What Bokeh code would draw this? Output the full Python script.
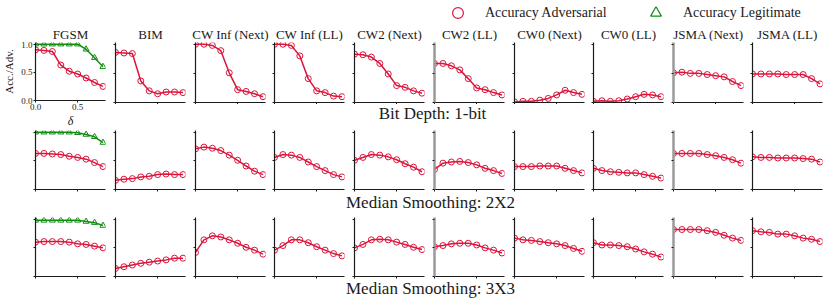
from bokeh.plotting import figure
from bokeh.layouts import row, column
from bokeh.models import (Range1d, FixedTicker, Label, Legend, LegendItem,
                          ColumnDataSource, PrintfTickFormatter, CustomJSTickFormatter)
from bokeh.embed import file_html
from bokeh.resources import INLINE

# ---------------- data ----------------
delta = [0.0, 0.1, 0.2, 0.3, 0.4, 0.5, 0.6, 0.7, 0.8]

attacks = ["FGSM", "BIM", "CW Inf (Next)", "CW Inf (LL)", "CW2 (Next)",
           "CW2 (LL)", "CW0 (Next)", "CW0 (LL)", "JSMA (Next)", "JSMA (LL)"]

defenses = ["Bit Depth: 1-bit", "Median Smoothing: 2X2", "Median Smoothing: 3X3"]

series_labels = ["Accuracy Adversarial", "Accuracy Legitimate"]

adv_bit_depth = [
    [0.90, 0.89, 0.87, 0.63, 0.52, 0.47, 0.40, 0.32, 0.25],
    [0.86, 0.85, 0.84, 0.37, 0.20, 0.15, 0.18, 0.18, 0.17],
    [1.00, 1.00, 0.98, 0.89, 0.51, 0.22, 0.19, 0.15, 0.10],
    [1.00, 1.00, 0.98, 0.80, 0.41, 0.20, 0.17, 0.11, 0.10],
    [0.83, 0.82, 0.78, 0.67, 0.49, 0.29, 0.26, 0.20, 0.16],
    [0.67, 0.67, 0.63, 0.56, 0.41, 0.25, 0.22, 0.17, 0.13],
    [0.01, 0.02, 0.02, 0.04, 0.07, 0.13, 0.21, 0.17, 0.14],
    [0.02, 0.03, 0.02, 0.03, 0.06, 0.10, 0.14, 0.13, 0.10],
    [0.51, 0.52, 0.50, 0.50, 0.48, 0.46, 0.44, 0.36, 0.29],
    [0.49, 0.49, 0.49, 0.49, 0.48, 0.48, 0.48, 0.41, 0.32],
]
adv_median_2x2 = [
    [0.63, 0.63, 0.62, 0.61, 0.58, 0.56, 0.53, 0.47, 0.40],
    [0.16, 0.18, 0.19, 0.22, 0.23, 0.26, 0.27, 0.26, 0.26],
    [0.71, 0.74, 0.72, 0.68, 0.60, 0.51, 0.41, 0.32, 0.26],
    [0.56, 0.61, 0.60, 0.56, 0.48, 0.40, 0.33, 0.26, 0.22],
    [0.51, 0.56, 0.61, 0.60, 0.57, 0.52, 0.45, 0.39, 0.31],
    [0.35, 0.46, 0.48, 0.49, 0.47, 0.43, 0.37, 0.33, 0.28],
    [0.40, 0.40, 0.40, 0.41, 0.41, 0.41, 0.37, 0.33, 0.29],
    [0.37, 0.33, 0.31, 0.30, 0.29, 0.29, 0.26, 0.23, 0.20],
    [0.63, 0.63, 0.63, 0.63, 0.61, 0.59, 0.56, 0.52, 0.46],
    [0.57, 0.56, 0.56, 0.55, 0.55, 0.55, 0.54, 0.53, 0.48],
]
adv_median_3x3 = [
    [0.60, 0.61, 0.61, 0.61, 0.60, 0.57, 0.56, 0.53, 0.50],
    [0.14, 0.17, 0.20, 0.23, 0.25, 0.27, 0.29, 0.32, 0.32],
    [0.42, 0.64, 0.71, 0.69, 0.64, 0.58, 0.51, 0.46, 0.39],
    [0.46, 0.54, 0.64, 0.64, 0.59, 0.52, 0.46, 0.40, 0.36],
    [0.50, 0.56, 0.64, 0.65, 0.64, 0.60, 0.56, 0.51, 0.47],
    [0.52, 0.54, 0.57, 0.58, 0.58, 0.55, 0.50, 0.46, 0.41],
    [0.67, 0.64, 0.63, 0.61, 0.59, 0.57, 0.54, 0.49, 0.44],
    [0.59, 0.55, 0.55, 0.54, 0.52, 0.48, 0.43, 0.39, 0.34],
    [0.82, 0.82, 0.82, 0.82, 0.80, 0.77, 0.72, 0.67, 0.63],
    [0.80, 0.78, 0.77, 0.74, 0.74, 0.71, 0.67, 0.65, 0.61],
]
legit_bit_depth = [1.00, 1.00, 1.00, 1.00, 1.00, 1.00, 0.91, 0.76, 0.60]
legit_median_2x2 = [1.00, 1.00, 1.00, 1.00, 1.00, 0.99, 0.96, 0.92, 0.82]
legit_median_3x3 = [0.98, 0.98, 0.98, 0.98, 0.98, 0.98, 0.96, 0.94, 0.89]

x_ticks = [0.0, 0.5]
y_ticks = [0.0, 0.5, 1.0]

adv_rows = [adv_bit_depth, adv_median_2x2, adv_median_3x3]
legit_rows = [legit_bit_depth, legit_median_2x2, legit_median_3x3]

# ---------------- style / geometry ----------------
RED = "#DC143C"
GREEN = "#128c12"
TXT = "#1a1a1a"
FONT = "Liberation Serif"
SPINES = [35, 115, 195, 274, 354, 434, 514, 593, 673, 752]  # page x of each y-axis
FRAME_W = 70
TOTAL_W = 826
GRAY_SPINE_COLS = {5, 8}

# (top border, frame height, bottom border) per row
ROW_GEOM = [(1, 60, 2), (0, 59, 3), (4, 59, 3)]


def make_panel(r, c):
    top, fh, bottom = ROW_GEOM[r]
    labelled = (r == 0 and c == 0)
    if labelled:
        bottom = 28
    left = SPINES[0] if c == 0 else 5
    if c < 9:
        right = SPINES[c + 1] - SPINES[c] - FRAME_W - 5
    else:
        right = TOTAL_W - (SPINES[c] + FRAME_W)
    w = left + FRAME_W + right
    h = top + fh + bottom
    p = figure(width=w, height=h, x_range=Range1d(0, 0.83), y_range=Range1d(0, 1.03),
               toolbar_location=None, output_backend="svg", title=None,
               min_border_left=left, min_border_right=right,
               min_border_top=top, min_border_bottom=bottom)
    p.outline_line_color = None
    p.xgrid.visible = False
    p.ygrid.visible = False
    p.xaxis.ticker = FixedTicker(ticks=x_ticks)
    p.yaxis.ticker = FixedTicker(ticks=y_ticks)
    for ax in (p.xaxis[0], p.yaxis[0]):
        ax.axis_line_color = TXT
        ax.axis_line_width = 1.2
        ax.major_tick_line_color = TXT
        ax.major_tick_line_width = 1
        ax.major_tick_out = 2
        ax.major_tick_in = 0
        ax.minor_tick_line_color = None
        ax.major_label_standoff = 1
        ax.major_label_text_font = FONT
        ax.major_label_text_color = TXT
        if labelled:
            ax.major_label_text_font_size = "9px"
            ax.formatter = PrintfTickFormatter(format="%.1f")
        else:
            ax.major_label_text_font_size = "0px"
            ax.formatter = CustomJSTickFormatter(code="return ''")
    if c in GRAY_SPINE_COLS:
        p.yaxis.axis_line_color = "#9a9a9a"
        p.yaxis.axis_line_width = 2.5
    if labelled:
        p.yaxis.axis_label = "Acc./Adv."
        p.yaxis.axis_label_text_font = FONT
        p.yaxis.axis_label_text_font_style = "normal"
        p.yaxis.axis_label_text_font_size = "11px"
        p.yaxis.axis_label_text_color = TXT
        p.yaxis.axis_label_standoff = 3
        p.xaxis.axis_label = "δ"
        p.xaxis.axis_label_text_font = FONT
        p.xaxis.axis_label_text_font_style = "italic"
        p.xaxis.axis_label_text_font_size = "12px"
        p.xaxis.axis_label_text_color = TXT
        p.xaxis.axis_label_standoff = 1

    src = ColumnDataSource(dict(delta=delta, adv=adv_rows[r][c]))
    if c == 0:
        lsrc = ColumnDataSource(dict(delta=delta, legit=legit_rows[r]))
        p.line("delta", "legit", source=lsrc, line_color=GREEN, line_width=1.5)
        p.scatter("delta", "legit", source=lsrc, marker="triangle", size=6,
                  fill_color=None, line_color=GREEN, line_width=1)
    p.line("delta", "adv", source=src, line_color=RED, line_width=1.5)
    p.scatter("delta", "adv", source=src, marker="circle", size=6,
              fill_color=None, line_color=RED, line_width=1)
    return p


def blank(w, h):
    f = figure(width=w, height=h, x_range=Range1d(0, w), y_range=Range1d(0, h),
               toolbar_location=None, output_backend="svg", title=None,
               min_border=0, x_axis_location=None, y_axis_location=None)
    f.outline_line_color = None
    f.grid.visible = False
    return f


# ---------------- header: legend + column titles ----------------
HDR_H = 41
GLYPH = 27
hdr = blank(TOTAL_W, HDR_H)
nan = float("nan")
# legend-only renderers (NaN point: nothing drawn in the header itself)
r_adv = hdr.scatter(x=[nan], y=[nan], marker="circle", size=6, fill_color=None,
                    line_color=RED, line_width=1.2)
r_leg = hdr.scatter(x=[nan], y=[nan], marker="triangle", size=6, fill_color=None,
                    line_color=GREEN, line_width=1.2)
for rend, lab, gx in ((r_adv, series_labels[0], 457.5), (r_leg, series_labels[1], 655.5)):
    leg = Legend(items=[LegendItem(label=lab, renderers=[rend])],
                 location=(gx - GLYPH / 2, HDR_H + 1 - GLYPH),
                 glyph_width=GLYPH, glyph_height=GLYPH, label_height=GLYPH,
                 label_standoff=14, spacing=0, padding=0, margin=0,
                 border_line_color=None, background_fill_alpha=0,
                 label_text_font=FONT, label_text_font_size="14px",
                 label_text_color=TXT, label_text_baseline="middle")
    hdr.add_layout(leg)
for c, name in enumerate(attacks):
    hdr.add_layout(Label(x=SPINES[c] + FRAME_W / 2, y=7, x_units="screen", y_units="screen",
                         text=name, text_font=FONT, text_font_size="13px",
                         text_color=TXT, text_align="center", text_baseline="alphabetic"))

# ---------------- panels ----------------
panels = [[make_panel(r, c) for c in range(10)] for r in range(3)]


def strip(w, h, text, cx, base):
    s = blank(w, h)
    s.add_layout(Label(x=cx, y=base, x_units="screen", y_units="screen", text=text,
                       text_font=FONT, text_font_size="17px", text_color=TXT,
                       text_align="center", text_baseline="alphabetic"))
    return s


left_w = panels[0][0].width
right_w = TOTAL_W - left_w
strip1 = strip(right_w, 26, defenses[0], 432 - left_w, 17)
strip2 = strip(TOTAL_W, 21, defenses[1], 430, 11)
strip3 = strip(TOTAL_W, 23, defenses[2], 430, 14.5)

block1 = row(panels[0][0], column(row(*panels[0][1:]), strip1))
block2 = column(row(*panels[1]), strip2)
block3 = column(row(*panels[2]), strip3)
layout = column(hdr, block1, block2, block3)

open("out.html", "w").write(file_html(layout, INLINE))
